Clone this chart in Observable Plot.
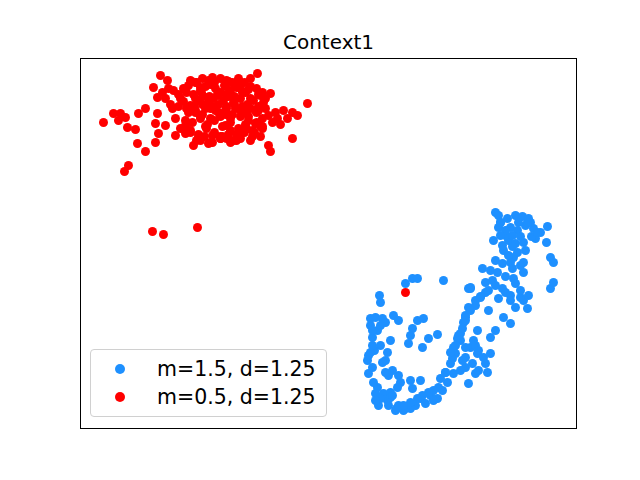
<!DOCTYPE html>
<html>
<head>
<meta charset="utf-8">
<script src="https://cdn.jsdelivr.net/npm/d3@7"></script>
<script src="https://cdn.jsdelivr.net/npm/@observablehq/plot@0.6"></script>
<style>
  body { margin: 0; background: #fff; }
  #wrap { position: relative; width: 640px; height: 480px; font-family: "DejaVu Sans", sans-serif; }
  #legend { position: absolute; left: 90px; top: 349px; width: 237px; height: 68px;
    border: 1px solid #d0d0d0; border-radius: 4px; background: rgba(255,255,255,0.8); box-sizing: border-box; }
  .row { position: absolute; left: 0; height: 22px; font-size: 20.5px; line-height: 22px; color: #000; white-space: nowrap; }
  .sw { position: absolute; left: 24px; top: 6px; width: 10px; height: 10px; border-radius: 50%; }
  .lab { position: absolute; left: 66px; top: 0; }
</style>
</head>
<body>
<div id="wrap"></div>
<script>
const title = "Context1";
const seriesNames = ["m=1.5, d=1.25", "m=0.5, d=1.25"];
const seriesColors = ["#1e90ff", "#ff0000"];

// values (horizontal, vertical; vertical grows downward)
const blueX = [495,498,515,522,528,507,498,493,510,517,525,533,547,540,535,546,508,515,523,503,517,525,513,523,550,553,495,502,482,490,497,492,485,523,513,515,550,553,502,505,510,520,510,515,527,523,485,480,498,475,470,468,443,503,510,465,463,495,490,477,473,470,460,460,455,452,465,465,477,483,490,485,472,465,460,475,487,450,453,447,468,438,430,437,420,415,410,403,395,387,378,383,375,377,373,368,372,367,368,390,390,412,410,400,398,388,397,420,385,382,387,390,372,377,370,370,375,382,385,393,398,379,380,405,412,417,412,417,423,410,408,422,428,437,468,465,457,453,475,478,470,500,505,512,530,520,488,478,462,445,442,433,425,405,398,392,372,380,374,
  500,505,512,518,520,527,531,537,510,505,495,488,480,475,470,465,462,458,455,450,445,440,433,428,422,417,410,403,396,388,380,375,372,370,380,385,392,500,512,520,528,502,508];
const blueY = [212,215,215,216,218,218,227,240,227,230,225,228,226,232,238,242,240,243,242,250,252,250,257,262,257,262,260,263,268,270,272,280,282,272,278,283,288,282,288,292,295,297,300,307,308,300,292,297,298,300,288,307,280,317,323,317,322,330,337,330,340,347,333,340,353,358,347,357,353,357,353,363,363,367,370,373,372,363,373,382,383,387,395,398,398,405,408,410,410,400,405,393,393,387,382,373,367,360,355,392,397,388,380,382,375,375,387,380,360,362,352,340,337,330,325,318,317,318,322,315,320,295,302,283,278,278,328,320,318,335,343,347,338,334,288,315,338,347,345,370,287,222,235,246,222,265,310,350,360,372,390,400,403,408,405,395,330,345,350,
  222,230,235,222,236,222,236,232,262,276,285,290,296,305,310,320,328,335,345,352,372,378,390,392,395,398,402,405,408,405,398,400,345,352,325,372,370,235,268,290,295,245,255];
const redX = [103,113,120,125,118,127,135,137,145,128,124,138,145,153,160,167,157,165,173,180,157,155,158,155,175,172,175,185,193,183,195,195,257,250,238,228,212,270,307,292,297,287,277,292,268,270,233,220,208,255,262,200,205,210,215,220,225,230,235,240,245,190,198,203,208,213,218,223,228,233,240,247,253,258,263,188,195,202,210,218,226,232,240,248,256,262,268,185,192,200,207,214,222,230,238,245,252,260,190,198,206,214,222,230,238,246,254,262,272,280,196,204,212,220,228,236,244,252,186,193,201,209,217,226,234,242,250,258,265,200,210,220,230,240,248,256,183,215,225,185,180,152,163,197,
  190,196,202,208,214,220,226,232,238,244,250,256,262,188,200,212,224,236,248,260,170,178,186,194,202,210,218,226,234,242,250,258,165,185,205,225,245,200,210,220,230,240,250,260,195,205,215,225,235,245,255,265,275,283,
  162,168,178,190,198,212,226,236,244,405];
const redY = [122,113,113,117,120,127,129,143,151,165,171,113,108,87,75,80,97,98,90,98,113,123,133,142,135,108,118,133,145,88,82,98,73,78,78,81,77,93,103,112,115,118,118,138,145,151,140,136,143,123,128,90,86,84,88,92,86,90,85,88,92,105,100,96,102,98,95,100,96,102,98,104,100,106,102,112,110,114,108,112,108,114,110,116,112,118,115,120,122,118,124,120,126,122,128,124,130,126,130,134,128,132,136,130,134,128,132,126,122,124,140,136,142,138,134,140,130,136,92,94,92,96,94,94,96,92,98,94,98,116,118,116,118,116,120,122,101,106,110,125,128,231,234,227,
  80,82,78,80,82,78,80,82,84,82,86,88,92,85,87,83,85,87,89,95,104,106,108,106,104,106,104,106,104,106,108,110,125,127,126,125,127,140,142,138,142,138,140,136,112,108,110,114,108,112,110,108,112,110,
  92,88,94,132,137,135,138,134,132,292];

const blue = blueX.map((x, i) => ({x, y: blueY[i]}));
const red = redX.map((x, i) => ({x, y: redY[i]}));

const plot = Plot.plot({
  width: 640, height: 480,
  marginLeft: 80, marginRight: 64, marginTop: 58, marginBottom: 52,
  x: {domain: [80, 576], axis: null},
  y: {domain: [428, 58], axis: null},
  style: {fontFamily: "DejaVu Sans, sans-serif", background: "#fff"},
  marks: [
    Plot.dot(blue, {x: "x", y: "y", r: 4.5, fill: seriesColors[0], stroke: "none"}),
    Plot.dot(red, {x: "x", y: "y", r: 4.5, fill: seriesColors[1], stroke: "none"}),
    Plot.frame({stroke: "#000", strokeWidth: 1}),
    Plot.text([title], {text: d => d, frameAnchor: "top", dy: -24, fontSize: 20, fill: "#000"})
  ]
});
const wrap = document.getElementById("wrap");
wrap.appendChild(plot);
const lg = document.createElement("div");
lg.id = "legend";
seriesNames.forEach((n, i) => {
  const r = document.createElement("div");
  r.className = "row";
  r.style.top = (8 + i * 28) + "px";
  r.style.width = "235px";
  r.innerHTML = `<span class="sw" style="background:${seriesColors[i]}"></span><span class="lab">${n}</span>`;
  lg.appendChild(r);
});
wrap.appendChild(lg);
</script>
</body>
</html>
